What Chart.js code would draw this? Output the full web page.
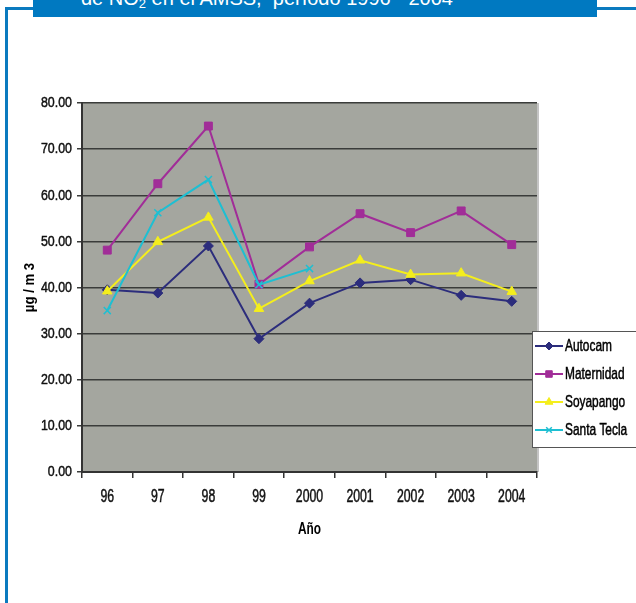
<!DOCTYPE html>
<html>
<head>
<meta charset="utf-8">
<script src="https://cdn.jsdelivr.net/npm/chart.js@4.4.0/dist/chart.umd.min.js"></script>
<style>
  html, body { margin: 0; padding: 0; background: #fff; }
  body { width: 636px; height: 603px; position: relative; overflow: hidden; }
  #banner {
    position: absolute; left: 33px; top: 0; width: 564px; height: 17px;
    background: #0079c1; overflow: hidden;
  }
  #banner span {
    position: absolute; left: 48px; top: -13px; line-height: 20px;
    font: 20px "Liberation Sans", Arial, sans-serif; color: #fff; white-space: nowrap;
  }
  .rule { position: absolute; background: #0a7abf; }
  #chart-wrap { position: absolute; left: 0; top: 0; width: 636px; height: 603px; }
</style>
</head>
<body>
<div class="rule" style="left:5px; top:7px; width:28px; height:3px;"></div>
<div class="rule" style="left:597px; top:7px; width:39px; height:3px;"></div>
<div class="rule" style="left:5px; top:7px; width:3px; height:596px;"></div>
<div id="banner"><span>de NO<sub style="font-size:13px; vertical-align:-3px">2</sub> en el AMSS,&nbsp; período 1996 - 2004</span></div>
<div id="chart-wrap"><canvas id="chart" width="636" height="603"></canvas></div>
<script>
const years = ["96", "97", "98", "99", "2000", "2001", "2002", "2003", "2004"];
const autocam = [39.5, 38.8, 49.0, 28.9, 36.6, 41.0, 41.7, 38.3, 37.0];
const maternidad = [48.1, 62.5, 75.0, 40.7, 48.8, 56.0, 51.9, 56.6, 49.3];
const soyapango = [39.2, 49.9, 55.2, 35.4, 41.4, 45.9, 42.8, 43.1, 39.1];
const santaTecla = [35.0, 56.2, 63.4, 40.6, 44.1, null, null, null, null];
const seriesNames = ["Autocam", "Maternidad", "Soyapango", "Santa Tecla"];
const yMin = 0, yMax = 80, yStep = 10;
const xTitle = "Año";
const yTitle = "µg / m 3";

const face = '"Liberation Sans", Arial, sans-serif';

// no narrow face installed, so squeeze the text horizontally by hand
function squeezed(ctx, text, x, y, opts) {
  ctx.save();
  ctx.translate(x, y);
  if (opts.rotate) ctx.rotate(opts.rotate);
  ctx.scale(opts.sx, 1);
  ctx.font = (opts.bold ? "bold " : "") + opts.size + "px " + face;
  ctx.fillStyle = opts.color || "#000";
  ctx.textAlign = opts.align || "center";
  ctx.textBaseline = "middle";
  ctx.fillText(text, 0, 0);
  if (!opts.bold) {
    // a touch heavier than plain regular
    ctx.strokeStyle = ctx.fillStyle;
    ctx.lineWidth = 0.5;
    ctx.strokeText(text, 0, 0);
  }
  ctx.restore();
}

function series(label, data, color, style, radius, order) {
  return {
    label: label,
    data: data,
    borderColor: color,
    backgroundColor: color,
    borderWidth: 2,
    pointStyle: style,
    pointRadius: radius,
    pointHoverRadius: radius,
    pointBorderWidth: style === "crossRot" ? 1.5 : 1,
    spanGaps: false,
    order: order,
  };
}

// gray plot area plus light edge on the right
const plotBackground = {
  id: "plotBackground",
  beforeDraw(chart) {
    const { ctx, chartArea: a } = chart;
    ctx.save();
    ctx.fillStyle = "#a4a69f";
    ctx.fillRect(a.left, a.top, a.right - a.left, a.bottom - a.top);
    ctx.strokeStyle = "#c4c4c4";
    ctx.lineWidth = 2;
    ctx.beginPath();
    ctx.moveTo(a.right + 1, a.top);
    ctx.lineTo(a.right + 1, a.bottom);
    ctx.stroke();
    ctx.restore();
  },
};

// tick labels and axis titles, positioned from the scales
const axisText = {
  id: "axisText",
  afterDraw(chart) {
    const { ctx, chartArea: a } = chart;
    const xs = chart.scales.x, ys = chart.scales.y;
    ys.ticks.forEach((t, i) => {
      squeezed(ctx, t.value.toFixed(2), a.left - 10, ys.getPixelForTick(i), { size: 15.5, sx: 0.8, align: "right", color: "#111" });
    });
    xs.ticks.forEach((t, i) => {
      squeezed(ctx, xs.getLabelForValue(t.value), xs.getPixelForTick(i), a.bottom + 25, { size: 17.5, sx: 0.7, color: "#111" });
    });
    squeezed(ctx, xTitle, (a.left + a.right) / 2, a.bottom + 57, { size: 16.5, sx: 0.72, bold: true });
    squeezed(ctx, yTitle, 30, (a.top + a.bottom) / 2, { size: 15, sx: 0.88, bold: true, rotate: -Math.PI / 2 });
  },
};

// boxed legend sitting over the right edge of the plot
const boxLegend = {
  id: "boxLegend",
  afterDraw(chart) {
    const { ctx, chartArea: a } = chart;
    const x0 = a.right - 5, y0 = a.top + 228;
    const rowH = 28;
    ctx.save();
    ctx.fillStyle = "#fff";
    ctx.fillRect(x0, y0, 110, 116);
    ctx.strokeStyle = "#555";
    ctx.lineWidth = 1;
    ctx.strokeRect(x0 + 0.5, y0 + 0.5, 110, 116);
    chart.data.datasets.forEach((ds, i) => {
      const y = y0 + 15 + i * rowH;
      ctx.strokeStyle = ds.borderColor;
      ctx.fillStyle = ds.backgroundColor;
      ctx.lineWidth = 2;
      ctx.beginPath();
      ctx.moveTo(x0 + 3, y);
      ctx.lineTo(x0 + 31, y);
      ctx.stroke();
      ctx.lineWidth = ds.pointBorderWidth;
      Chart.helpers.drawPoint(ctx, {
        pointStyle: ds.pointStyle,
        radius: ds.pointRadius - 1,
        borderWidth: ds.pointBorderWidth,
        rotation: 0,
      }, x0 + 17, y);
      squeezed(ctx, ds.label, x0 + 33, y, { size: 17, sx: 0.7, align: "left" });
    });
    ctx.restore();
  },
};

new Chart(document.getElementById("chart"), {
  type: "line",
  data: {
    labels: years,
    datasets: [
      series(seriesNames[0], autocam, "#2c2d7c", "rectRot", 5, 4),
      series(seriesNames[1], maternidad, "#a12d98", "rect", 5.6, 3),
      series(seriesNames[2], soyapango, "#f4ee1c", "triangle", 5.5, 2),
      series(seriesNames[3], santaTecla, "#1ebfd2", "crossRot", 5, 1),
    ],
  },
  options: {
    responsive: false,
    animation: false,
    events: [],
    layout: { padding: { left: 24, top: 103, right: 99, bottom: 67 } },
    plugins: { legend: { display: false }, tooltip: { enabled: false } },
    scales: {
      x: {
        offset: true,
        afterFit: (scale) => { scale.height = 64; },
        grid: { offset: true, drawOnChartArea: false, color: "#333", tickLength: 6, lineWidth: 1.5 },
        border: { color: "#333", width: 2 },
        ticks: { display: false },
      },
      y: {
        min: yMin,
        max: yMax,
        afterFit: (scale) => { scale.width = 58; },
        grid: { color: "#3a3c3a", lineWidth: 1.5, tickLength: 5 },
        border: { color: "#333", width: 2 },
        ticks: { display: false, stepSize: yStep },
      },
    },
  },
  plugins: [plotBackground, axisText, boxLegend],
});
</script>
</body>
</html>
